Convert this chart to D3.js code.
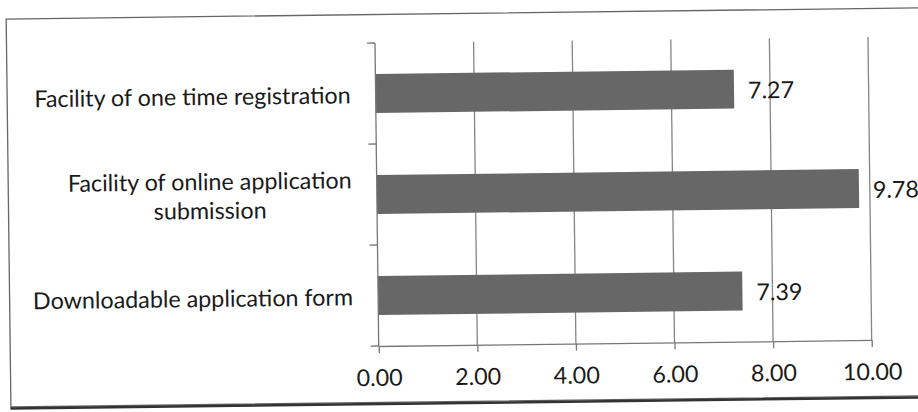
<!DOCTYPE html>
<html><head><meta charset="utf-8">
<script src="https://cdn.jsdelivr.net/npm/d3@7"></script>
<style>body{margin:0;background:#fff}</style>
</head><body>
<svg id="c" width="918" height="412"></svg>
<script>
const categories = ["Facility of one time registration", "Facility of online application submission", "Downloadable application form"];
const labelLines = [["Facility of one time registration"], ["Facility of online application", "submission"], ["Downloadable application form"]];
const values = [7.27, 9.78, 7.39];
const xTicks = [0, 2, 4, 6, 8, 10];

const svg = d3.select("#c");
const font = "Lato, 'Open Sans', sans-serif";
const fs = 23.3;
const txt = "#1a1a1a";
const root = svg.append("g").attr("transform", "rotate(-0.7,459,206)");

root.append("rect").attr("x", 8.5).attr("y", 13.5).attr("width", 930).attr("height", 388)
  .attr("fill", "#fff").attr("stroke", "#666").attr("stroke-width", 1.3);
root.append("line").attr("x1", 8).attr("x2", 940).attr("y1", 403).attr("y2", 403)
  .attr("stroke", "#333").attr("stroke-width", 2.5);

const m = {left: 377, right: 870, top: 42, bottom: 345};
const x = d3.scaleLinear().domain([0, 10]).range([m.left, m.right]);
const y = d3.scaleBand().domain(categories).range([m.top, m.bottom]).paddingInner(0.614).paddingOuter(0.307);

// gridlines
root.append("g").selectAll("line").data(xTicks.slice(1)).join("line")
  .attr("x1", d => x(d)).attr("x2", d => x(d)).attr("y1", m.top).attr("y2", m.bottom)
  .attr("stroke", "#858585").attr("stroke-width", 1.3);

// bars
root.append("g").selectAll("rect").data(values).join("rect")
  .attr("x", x(0)).attr("y", (d, i) => y(categories[i]))
  .attr("width", d => x(d) - x(0)).attr("height", y.bandwidth())
  .attr("fill", "#676767");

// x axis
const xa = root.append("g").attr("transform", `translate(0,${m.bottom})`)
  .call(d3.axisBottom(x).tickValues(xTicks).tickFormat(d3.format(".2f")).tickSize(7).tickSizeOuter(0));
xa.select(".domain").attr("stroke", "#777").attr("stroke-width", 1.3);
xa.selectAll(".tick line").attr("stroke", "#777").attr("stroke-width", 1.3);
xa.selectAll("text").attr("font-family", font).attr("font-size", fs).attr("fill", txt)
  .attr("y", 40).attr("dy", 0);

// y axis
const step = (m.bottom - m.top) / categories.length;
const bandEdges = d3.range(categories.length + 1).map(i => m.top + i * step);
root.append("line").attr("x1", x(0)).attr("x2", x(0)).attr("y1", m.top).attr("y2", m.bottom)
  .attr("stroke", "#777").attr("stroke-width", 1.3);
root.append("g").selectAll("line").data(bandEdges).join("line")
  .attr("x1", x(0) - 8).attr("x2", x(0)).attr("y1", d => d).attr("y2", d => d)
  .attr("stroke", "#777").attr("stroke-width", 1.3);

// category labels (block right-aligned, lines centred)
const labelRight = 352;
const lg = root.append("g").selectAll("text").data(categories).join("text")
  .attr("text-anchor", "middle").attr("font-family", font).attr("font-size", fs).attr("fill", txt);
lg.each(function(d, i) {
  const lines = labelLines[i];
  const t = d3.select(this);
  const cy = y(d) + y.bandwidth() / 2;
  const lh = 29;
  const first = cy + 9.5 - (lines.length - 1) * lh / 2 - (lines.length > 1 ? 1.5 : 0);
  const spans = lines.map((s, j) => t.append("tspan").attr("y", first + j * lh).text(s));
  const w = d3.max(spans, sp => sp.node().getComputedTextLength());
  spans.forEach(sp => sp.attr("x", labelRight - w / 2));
});

// value labels
root.append("g").selectAll("text").data(values).join("text")
  .attr("x", d => x(d) + 14).attr("y", (d, i) => y(categories[i]) + y.bandwidth() / 2 + 9.5)
  .attr("font-family", font).attr("font-size", fs).attr("fill", txt)
  .text(d => d.toFixed(2));
</script>
</body></html>
